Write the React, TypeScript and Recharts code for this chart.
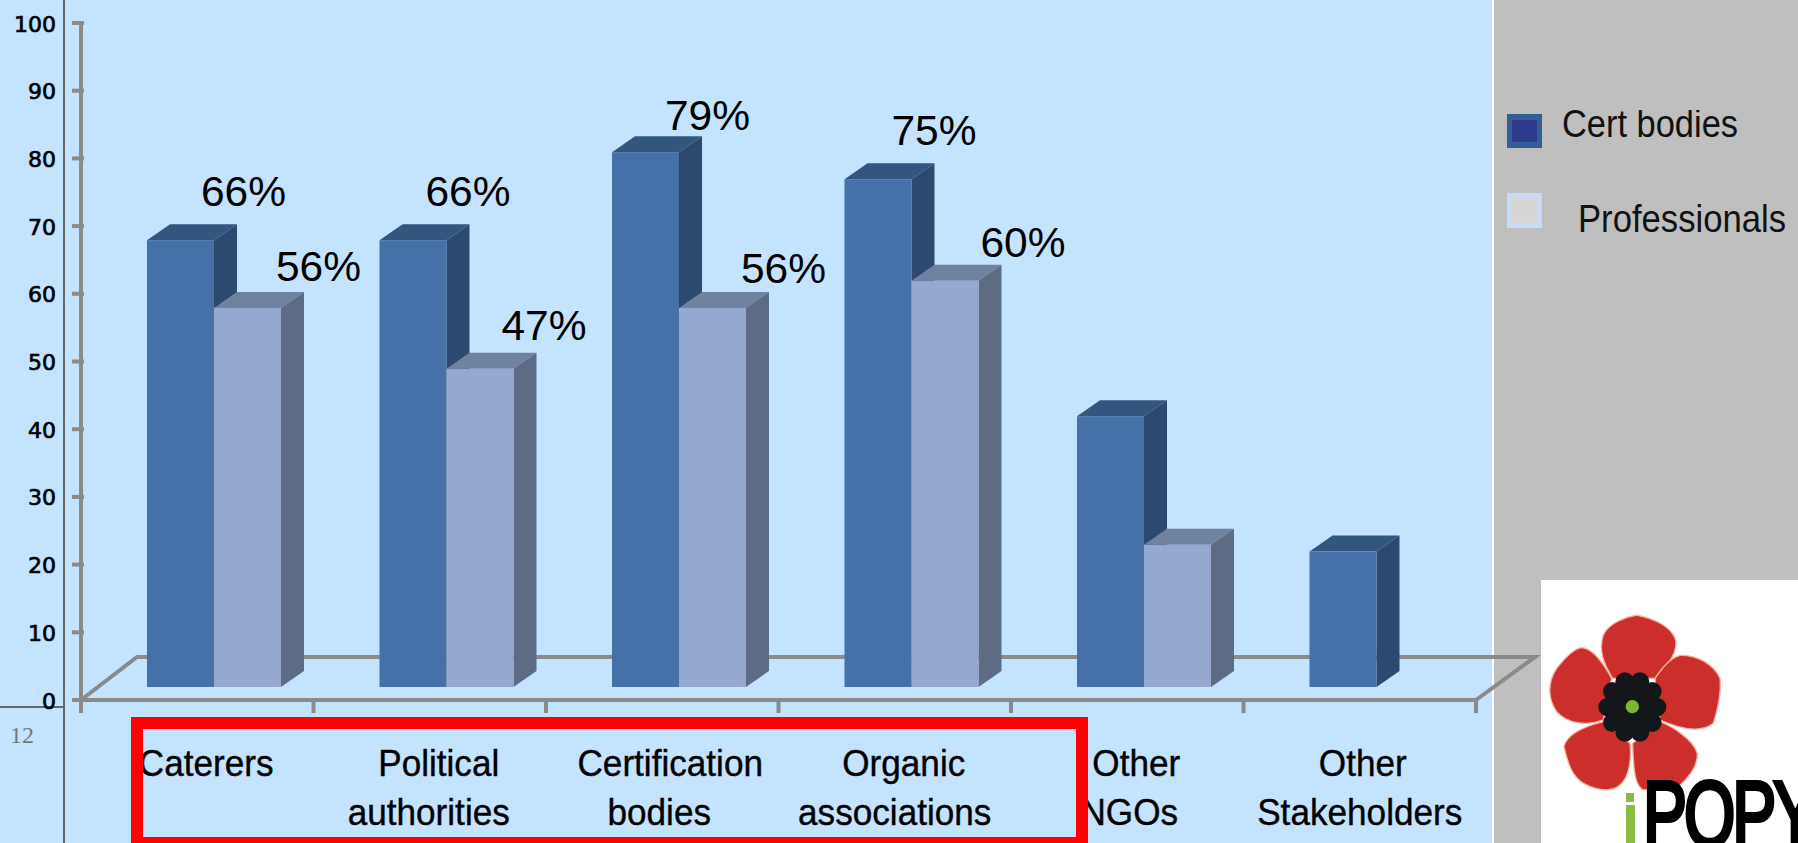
import React from 'react';
import { BarChart, Bar, XAxis, YAxis, Legend, LabelList } from 'recharts';

// --- data ---
const categories = [
  'Caterers',
  'Political authorities',
  'Certification bodies',
  'Organic associations',
  'Other NGOs',
  'Other Stakeholders',
];
const certBodies = [66, 66, 79, 75, 40, 20];
const professionals = [56, 47, 56, 60, 21, null];
const certLabels = ['66%', '66%', '79%', '75%', null, null];
const proLabels = ['56%', '47%', '56%', '60%', null, null];
const yTicks = [0, 10, 20, 30, 40, 50, 60, 70, 80, 90, 100];

const chartData = categories.map((name, i) => ({
  name,
  cert: certBodies[i],
  pro: professionals[i],
}));

// hand placed labels in the original slide: [dx from bar centre, gap above bar top]
const certLabelPlacement = [[63, 34], [55, 34], [62, 22], [56, 34]];
const proLabelPlacement = [[71, 27], [64, 29], [71, 25], [78, 24]];

// tick label lines + per line nudges, the slide's labels are not quite centred
const tickLines = [['Caterers'], ['Political', 'authorities'], ['Certification', 'bodies'], ['Organic', 'associations'], ['Other', 'NGOs'], ['Other', 'Stakeholders']];
const tickNudge = [[9], [9, -1], [8, -3], [9, 0], [9, 2], [3, 0]];

const WIDTH = 1798;
const HEIGHT = 843;
const PLOT_LEFT = 81;
const PLOT_RIGHT = 1476;
const BAND = (PLOT_RIGHT - PLOT_LEFT) / categories.length;

// the 3d look: front faces sit forward of the axis floor
const FLOOR_LIFT = 13;
const SHIFT_X = 17;
const DEPTH_X = 23;
const DEPTH_Y = 16;
const AXIS_GREY = '#8a8a8a';
const SANS = '"Liberation Sans", Arial, sans-serif';

const Bar3D = (props: any) => {
  const { x, y, width, height, front, top, side } = props;
  if (!height || height <= 0) return null;
  const l = x + SHIFT_X;
  const r = l + width;
  const t = y - FLOOR_LIFT;
  const b = t + height;
  return (
    <g>
      <polygon points={`${l},${t} ${l + DEPTH_X},${t - DEPTH_Y} ${r + DEPTH_X},${t - DEPTH_Y} ${r},${t}`} fill={top} />
      <polygon points={`${r},${t} ${r + DEPTH_X},${t - DEPTH_Y} ${r + DEPTH_X},${b - DEPTH_Y} ${r},${b}`} fill={side} />
      <rect x={l} y={t} width={width} height={height} fill={front} />
    </g>
  );
};

const makeLabel = (texts: (string | null)[], placement: number[][]) => (props: any) => {
  const { x, y, width, index } = props;
  const text = texts[index];
  if (!text) return null;
  const [dx, gap] = placement[index];
  return (
    <text
      x={x + SHIFT_X + width / 2 + dx}
      y={y - FLOOR_LIFT - gap}
      textAnchor="middle"
      fontFamily={SANS}
      fontSize={42.5}
      fill="#000"
    >
      {text}
    </text>
  );
};

const CategoryTick = (props: any) => {
  const { x, index } = props;
  const lines = tickLines[index];
  return (
    <g>
      <line x1={x - BAND / 2} x2={x - BAND / 2} y1={700} y2={713} stroke={AXIS_GREY} strokeWidth={4} />
      {index === categories.length - 1 && (
        <line x1={x + BAND / 2} x2={x + BAND / 2} y1={700} y2={713} stroke={AXIS_GREY} strokeWidth={4} />
      )}
      {lines.map((line, i) => {
        const cx = x + tickNudge[index][i];
        return (
          <text
            key={line}
            x={cx}
            y={776 + i * 49}
            textAnchor="middle"
            fontFamily={SANS}
            fontSize={37}
            fill="#000"
            stroke="#000"
            strokeWidth={0.4}
            transform={`translate(${cx} 0) scale(0.95 1) translate(${-cx} 0)`}
          >
            {line}
          </text>
        );
      })}
    </g>
  );
};

const ValueTick = (props: any) => {
  const { y, payload } = props;
  return (
    <g>
      <line x1={PLOT_LEFT - 9} x2={PLOT_LEFT + 3} y1={y} y2={y} stroke={AXIS_GREY} strokeWidth={4} />
      <text
        x={56}
        y={y + 8.5}
        textAnchor="end"
        fontFamily='"DejaVu Sans", sans-serif'
        fontSize={22}
        fill="#000"
        stroke="#000"
        strokeWidth={0.7}
      >
        {payload.value}
      </text>
    </g>
  );
};

const LegendBox = () => (
  <svg width={291} height={140} style={{ display: 'block' }}>
    <rect x={0} y={4} width={35} height={34} fill="#335f96" />
    <rect x={5} y={10} width={25} height={22} fill="#2e3a8e" />
    <text x={55} y={27} fontFamily={SANS} fontSize={39} fill="#111" textLength={176} lengthAdjust="spacingAndGlyphs">Cert bodies</text>
    <rect x={0} y={83} width={35} height={35} fill="#c6dcf5" />
    <rect x={5} y={88} width={25} height={25} fill="#d6d6d6" />
    <text x={71} y={122} fontFamily={SANS} fontSize={39} fill="#111" textLength={208} lengthAdjust="spacingAndGlyphs">Professionals</text>
  </svg>
);

const Layer = ({ children }: { children: React.ReactNode }) => (
  <svg width={WIDTH} height={HEIGHT} style={{ position: 'absolute', left: 0, top: 0, pointerEvents: 'none' }}>
    {children}
  </svg>
);

// logo petals
const petalPaths = [
  'M290 105C340 115 400 140 408 185C410 230 370 270 345 295L218 295C190 250 175 210 190 165C205 130 260 110 290 105Z',
  'M125 203C160 205 190 250 215 295L190 420C140 440 80 430 50 395C25 360 20 310 50 265C70 240 100 205 125 203Z',
  'M420 226C470 225 520 250 540 295C545 340 530 400 520 430C490 455 440 455 360 420L345 295C370 260 390 235 420 226Z',
  'M190 425L270 490C275 530 270 590 240 615C210 640 170 630 130 610C100 590 85 560 72 500C80 465 130 440 190 425Z',
  'M360 425C400 440 460 480 472 520C475 560 440 600 415 620L310 630C290 620 280 590 278 490Z',
];
const scallopAngles = [0, 36, 72, 108, 144, 180, 216, 252, 288, 324];

const Logo = () => (
  <g>
    <rect x={1541} y={580} width={257} height={263} fill="#ffffff" />
    <g transform="translate(1540 580) scale(0.3333)">
      {petalPaths.map((d) => (
        <path key={d} d={d} fill="#cc2f2b" stroke="#f3b8a8" strokeWidth={4} />
      ))}
      <circle cx={277} cy={381} r={82} fill="#14171a" />
      {scallopAngles.map((a) => (
        <circle
          key={a}
          cx={277 + 74 * Math.cos((a * Math.PI) / 180)}
          cy={381 + 80 * Math.sin((a * Math.PI) / 180)}
          r={28}
          fill="#14171a"
        />
      ))}
      <circle cx={277} cy={380} r={20} fill="#7cb82f" />
    </g>
    <rect x={1626} y={793} width={8} height={9} fill="#8bbb45" />
    <rect x={1626} y={805} width={9} height={38} fill="#8bbb45" />
    <text
      x={1643}
      y={0}
      fontFamily={SANS}
      fontSize={66}
      letterSpacing={-3}
      fill="#000"
      stroke="#000"
      strokeWidth={3}
      transform="translate(0 846) scale(1 1.4)"
    >
      POPY
    </text>
  </g>
);

export default function App() {
  return (
    <div style={{ position: 'absolute', left: 0, top: 0, width: WIDTH, height: HEIGHT, overflow: 'hidden', background: '#bfbfbf' }}>
      {/* slide panels + floor of the 3d chart */}
      <Layer>
        <rect x={0} y={0} width={1492} height={HEIGHT} fill="#c4e3ff" />
        <rect x={1492} y={0} width={2} height={HEIGHT} fill="#ffffff" />
        <line x1={64} x2={64} y1={0} y2={HEIGHT} stroke="#666" strokeWidth={2} />
        <line x1={0} x2={64} y1={707} y2={707} stroke="#666" strokeWidth={2} />
        <text x={10} y={743} fontFamily='"Liberation Serif", serif' fontSize={24} fill="#777">12</text>
        <polyline points="81,700 137,657 1535,657 1476,700" fill="none" stroke={AXIS_GREY} strokeWidth={4} />
      </Layer>

      <div style={{ position: 'absolute', left: 0, top: 0 }}>
        <BarChart
          width={WIDTH}
          height={HEIGHT}
          data={chartData}
          margin={{ top: 23, right: WIDTH - PLOT_RIGHT, bottom: 0, left: 0 }}
          barCategoryGap={49}
          barGap={0}
        >
          <XAxis
            dataKey="name"
            height={HEIGHT - 700}
            interval={0}
            tick={<CategoryTick />}
            tickLine={false}
            axisLine={{ stroke: AXIS_GREY, strokeWidth: 4 }}
          />
          <YAxis
            width={PLOT_LEFT}
            domain={[0, 100]}
            ticks={yTicks}
            tick={<ValueTick />}
            tickLine={false}
            axisLine={{ stroke: AXIS_GREY, strokeWidth: 4 }}
          />
          <Legend
            layout="vertical"
            align="center"
            verticalAlign="middle"
            content={<LegendBox />}
            wrapperStyle={{ position: 'absolute', left: 1507, top: 110, width: 291, height: 140, bottom: 'auto', right: 'auto', margin: 0 }}
          />
          <Bar
            dataKey="cert"
            name="Cert bodies"
            isAnimationActive={false}
            shape={<Bar3D front="#4571a8" top="#33567f" side="#2c4a70" />}
          >
            <LabelList dataKey="cert" content={makeLabel(certLabels, certLabelPlacement)} />
          </Bar>
          <Bar
            dataKey="pro"
            name="Professionals"
            isAnimationActive={false}
            shape={<Bar3D front="#95a9d0" top="#6f82a0" side="#5d6b85" />}
          >
            <LabelList dataKey="pro" content={makeLabel(proLabels, proLabelPlacement)} />
          </Bar>
        </BarChart>
      </div>

      {/* red highlight and the logo sit on top */}
      <Layer>
        <rect x={137} y={723} width={945} height={120} fill="none" stroke="#ff0000" strokeWidth={12} />
        <Logo />
      </Layer>
    </div>
  );
}
